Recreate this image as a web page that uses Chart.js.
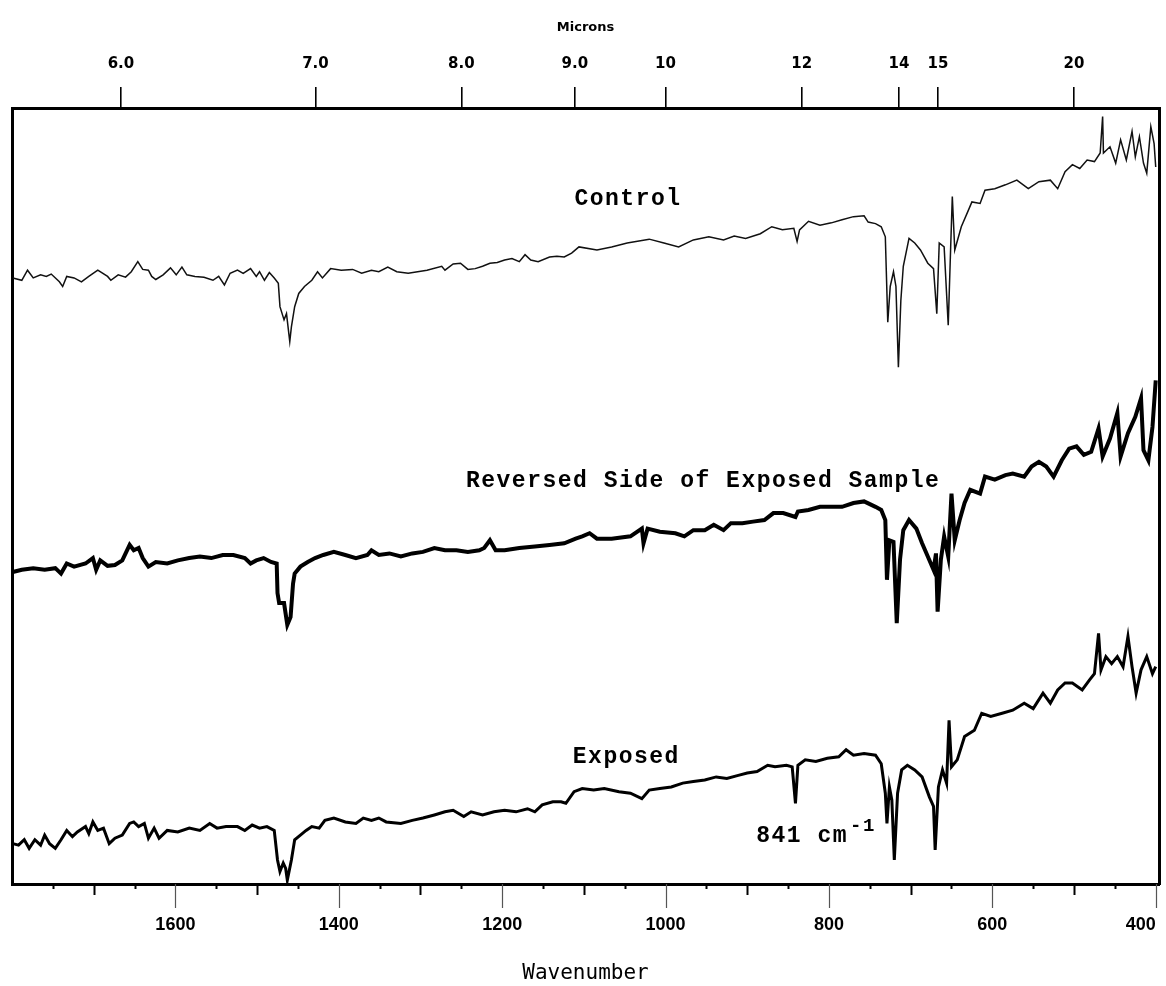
<!DOCTYPE html>
<html>
<head>
<meta charset="utf-8">
<title>IR spectra</title>
<script src="https://cdn.jsdelivr.net/npm/chart.js"></script>
<style>
  html, body { margin: 0; padding: 0; background: #fff; }
  #spectra { display: block; background: #fff; }
</style>
</head>
<body>
<canvas id="spectra" width="1166" height="986"></canvas>
<script>
"use strict";

// wavenumber axis (cm-1) and the micron scale printed along the top
const wavenumberLabels = [1600, 1400, 1200, 1000, 800, 600, 400];
const micronTicks = [6.0, 7.0, 8.0, 9.0, 10, 12, 14, 15, 20];
const micronLabels = ["6.0", "7.0", "8.0", "9.0", "10", "12", "14", "15", "20"];

const seriesNames = ["Control", "Reversed Side of Exposed Sample", "Exposed"];
const markedPeak = 841;

// Control spectrum
const controlWn = [
    1799, 1788, 1781, 1774, 1765, 1758, 1752, 1742, 1738, 1733,
    1724, 1715, 1706, 1695, 1683, 1679, 1670, 1661, 1654, 1646,
    1640, 1633, 1629, 1624, 1615, 1606, 1599, 1592, 1586, 1576,
    1565, 1554, 1547, 1540, 1533, 1524, 1517, 1508, 1501, 1497,
    1491, 1485, 1479, 1474, 1472, 1467, 1464, 1460, 1458, 1454,
    1449, 1442, 1433, 1426, 1420, 1410, 1397, 1383, 1372, 1360,
    1351, 1340, 1329, 1315, 1292, 1274, 1270, 1260, 1251, 1242,
    1233, 1224, 1215, 1206, 1197, 1188, 1179, 1172, 1165, 1156,
    1142, 1133, 1124, 1115, 1106, 1084, 1066, 1047, 1020, 1002,
    984, 966, 947, 929, 916, 902, 884, 870, 857, 843,
    839, 836, 825, 811, 797, 784, 770, 757, 752, 743,
    736, 731, 728, 725, 721, 718, 715, 712, 709, 702,
    695, 688, 679, 672, 668, 665, 659, 654, 651, 649,
    646, 638, 629, 625, 615, 609, 597, 584, 570, 556,
    543, 529, 520, 511, 502, 493, 484, 475, 468, 465,
    464, 456, 449, 443, 436, 429, 425, 420, 415, 411,
    406, 402, 400
];
const controlT = [
    78.1, 77.8, 79.1, 78.1, 78.5, 78.3, 78.6, 77.6, 77.0, 78.3,
    78.1, 77.6, 78.3, 79.1, 78.3, 77.8, 78.5, 78.2, 78.9, 80.2,
    79.2, 79.1, 78.3, 77.9, 78.5, 79.4, 78.5, 79.5, 78.5, 78.3,
    78.2, 77.8, 78.3, 77.2, 78.7, 79.1, 78.7, 79.3, 78.3, 78.9,
    77.8, 78.8, 78.1, 77.4, 74.4, 72.7, 73.5, 69.9, 71.8, 74.4,
    76.1, 77.0, 77.8, 78.9, 78.1, 79.3, 79.1, 79.2, 78.7, 79.1,
    78.9, 79.5, 78.9, 78.7, 79.1, 79.6, 79.1, 79.9, 80.0, 79.2,
    79.3, 79.6, 80.0, 80.1, 80.4, 80.6, 80.2, 81.1, 80.4, 80.2,
    80.8, 80.9, 80.8, 81.3, 82.1, 81.7, 82.1, 82.6, 83.1, 82.6,
    82.1, 83.0, 83.4, 83.0, 83.5, 83.2, 83.8, 84.7, 84.3, 84.5,
    82.8, 84.3, 85.4, 84.9, 85.2, 85.6, 86.0, 86.1, 85.3, 85.1,
    84.7, 83.4, 72.4, 77.0, 78.9, 77.0, 66.6, 75.2, 79.6, 83.2,
    82.6, 81.7, 80.0, 79.3, 73.5, 82.6, 82.1, 72.0, 82.1, 88.6,
    81.7, 84.7, 86.9, 87.9, 87.7, 89.4, 89.6, 90.1, 90.7, 89.6,
    90.5, 90.7, 89.6, 91.8, 92.7, 92.2, 93.3, 93.1, 94.2, 98.9,
    94.2, 95.0, 92.9, 95.9, 93.3, 97.0, 93.7, 96.3, 92.9, 91.6,
    97.6, 95.4, 92.4
];

// Reversed side of the exposed sample
const reversedWn = [
    1799, 1788, 1774, 1760, 1747, 1740, 1733, 1724, 1710, 1701,
    1697, 1692, 1683, 1674, 1665, 1656, 1651, 1645, 1640, 1633,
    1624, 1610, 1597, 1583, 1570, 1556, 1542, 1529, 1515, 1508,
    1501, 1492, 1483, 1476, 1475, 1473, 1467, 1463, 1459, 1456,
    1454, 1447, 1438, 1429, 1419, 1406, 1392, 1379, 1365, 1360,
    1351, 1338, 1324, 1310, 1297, 1283, 1270, 1256, 1242, 1228,
    1222, 1215, 1208, 1197, 1179, 1160, 1142, 1124, 1110, 1102,
    1093, 1084, 1066, 1043, 1029, 1027, 1022, 1007, 988, 977,
    966, 952, 941, 929, 920, 906, 893, 879, 868, 856,
    841, 838, 825, 811, 797, 784, 770, 757, 743, 736,
    731, 729, 726, 721, 717, 713, 709, 702, 693, 686,
    679, 672, 669, 667, 663, 659, 654, 650, 646, 640,
    634, 627, 615, 609, 597, 584, 575, 561, 552, 543,
    534, 525, 515, 506, 497, 488, 479, 470, 465, 456,
    447, 443, 434, 425, 418, 415, 409, 404, 400
];
const reversedT = [
    40.2, 40.5, 40.7, 40.5, 40.7, 40.0, 41.3, 40.9, 41.3, 42.0,
    40.5, 41.7, 41.0, 41.1, 41.7, 43.7, 43.0, 43.3, 42.0, 40.9,
    41.5, 41.3, 41.7, 42.0, 42.2, 42.0, 42.4, 42.4, 42.0, 41.3,
    41.7, 42.0, 41.5, 41.3, 37.5, 36.2, 36.2, 33.4, 34.4, 38.7,
    40.0, 40.9, 41.5, 42.0, 42.4, 42.8, 42.4, 42.0, 42.4, 43.0,
    42.4, 42.6, 42.2, 42.6, 42.8, 43.3, 43.0, 43.0, 42.8, 43.0,
    43.3, 44.3, 43.0, 43.0, 43.3, 43.5, 43.7, 43.9, 44.5, 44.8,
    45.2, 44.5, 44.5, 44.8, 45.8, 43.9, 45.8, 45.4, 45.2, 44.8,
    45.6, 45.6, 46.3, 45.6, 46.5, 46.5, 46.7, 46.9, 47.8, 47.8,
    47.3, 48.0, 48.2, 48.6, 48.6, 48.6, 49.1, 49.3, 48.6, 48.2,
    46.9, 39.2, 44.3, 44.1, 33.6, 41.8, 45.6, 46.9, 45.8, 43.9,
    42.2, 40.5, 42.6, 35.1, 41.8, 44.8, 42.2, 50.3, 44.3, 46.9,
    49.1, 50.8, 50.3, 52.5, 52.1, 52.7, 52.9, 52.5, 53.8, 54.4,
    53.8, 52.5, 54.6, 56.1, 56.4, 55.3, 55.7, 58.7, 55.1, 57.4,
    60.7, 55.1, 58.1, 60.2, 62.6, 55.9, 54.6, 58.9, 64.9
];

// Exposed surface
const exposedWn = [
    1799, 1792, 1785, 1779, 1772, 1765, 1760, 1754, 1747, 1740,
    1733, 1726, 1720, 1710, 1706, 1701, 1695, 1688, 1681, 1674,
    1665, 1656, 1651, 1645, 1638, 1633, 1626, 1620, 1610, 1597,
    1583, 1570, 1558, 1549, 1538, 1524, 1515, 1506, 1497, 1488,
    1479, 1475, 1472, 1468, 1465, 1463, 1458, 1454, 1447, 1440,
    1433, 1424, 1417, 1406, 1392, 1379, 1370, 1360, 1351, 1342,
    1324, 1310, 1297, 1283, 1270, 1260, 1247, 1238, 1224, 1210,
    1197, 1183, 1169, 1160, 1151, 1138, 1128, 1122, 1112, 1102,
    1088, 1075, 1057, 1043, 1029, 1020, 1007, 993, 979, 966,
    952, 938, 925, 911, 900, 888, 875, 866, 852, 845,
    markedPeak, 838, 829, 816, 802, 788, 779, 770, 757, 743,
    736, 731, 729, 726, 723, 720, 716, 711, 704, 695,
    686, 677, 672, 670, 666, 661, 656, 653, 650, 643,
    634, 622, 613, 602, 588, 575, 561, 550, 538, 529,
    520, 511, 502, 490, 481, 475, 470, 467, 461, 454,
    447, 440, 434, 429, 424, 418, 411, 404, 400
];
const exposedT = [
    5.2, 5.0, 5.7, 4.6, 5.7, 5.0, 6.3, 5.2, 4.6, 5.7,
    6.9, 6.1, 6.7, 7.4, 6.5, 8.0, 6.9, 7.2, 5.2, 5.9,
    6.3, 7.8, 8.0, 7.4, 7.8, 5.9, 7.2, 5.9, 6.9, 6.7,
    7.2, 6.9, 7.8, 7.2, 7.4, 7.4, 6.9, 7.6, 7.2, 7.4,
    6.9, 3.1, 1.6, 2.7, 2.0, 0.5, 3.1, 5.7, 6.3, 6.9,
    7.4, 7.2, 8.2, 8.5, 8.0, 7.8, 8.5, 8.2, 8.5, 8.0,
    7.8, 8.2, 8.5, 8.9, 9.3, 9.5, 8.7, 9.3, 8.9, 9.3,
    9.5, 9.3, 9.7, 9.3, 10.2, 10.6, 10.6, 10.4, 11.9, 12.3,
    12.1, 12.3, 11.9, 11.7, 11.0, 12.1, 12.3, 12.5, 13.0, 13.2,
    13.4, 13.8, 13.6, 14.0, 14.3, 14.5, 15.3, 15.1, 15.3, 15.1,
    10.4, 15.3, 16.0, 15.8, 16.2, 16.4, 17.3, 16.6, 16.8, 16.6,
    15.5, 11.7, 7.8, 12.5, 10.8, 3.1, 11.7, 14.7, 15.3, 14.7,
    13.8, 11.2, 10.0, 4.4, 12.5, 14.7, 13.0, 21.1, 15.1, 16.0,
    19.0, 19.8, 22.0, 21.6, 22.0, 22.4, 23.3, 22.6, 24.6, 23.3,
    25.0, 25.9, 25.9, 25.0, 26.3, 27.1, 32.3, 27.6, 29.3, 28.4,
    29.3, 28.0, 31.9, 28.0, 24.6, 27.6, 29.3, 27.1, 28.0
];

const toPoints = (wn, t) => wn.map((w, i) => ({ x: w, y: t[i] }));

const labelFont = 'bold 23px "Liberation Mono", "DejaVu Sans Mono", monospace';

// minor / major tick marks under the wavenumber axis
const wavenumberTickMarks = {
    id: "wavenumberTickMarks",
    afterDraw(chart) {
        const { ctx, chartArea } = chart;
        const xScale = chart.scales.x;
        ctx.save();
        for (let v = 400; v < 1800; v += 50) {
            const px = Math.round(xScale.getPixelForValue(v)) + 0.5;
            let len = 5;
            if (v % 200 === 0) len = 24;
            else if (v % 100 === 0) len = 11;
            ctx.strokeStyle = v % 200 === 0 ? "#555" : "#000";
            ctx.lineWidth = v % 200 === 0 ? 1.2 : 2;
            ctx.beginPath();
            ctx.moveTo(px, chartArea.bottom);
            ctx.lineTo(px, chartArea.bottom + len);
            ctx.stroke();
        }
        ctx.restore();
    }
};

// typed names beside each trace, plus the 841 cm-1 note
const traceLabels = {
    id: "traceLabels",
    afterDatasetsDraw(chart, args, opts) {
        const { ctx } = chart;
        const xScale = chart.scales.x;
        const yScale = chart.scales.y;
        ctx.save();
        ctx.fillStyle = "#000";
        ctx.font = labelFont;
        ctx.letterSpacing = "1.5px";
        ctx.textBaseline = "middle";
        ctx.textAlign = "center";
        opts.spots.forEach((spot, i) => {
            ctx.fillText(seriesNames[i], xScale.getPixelForValue(spot.x), yScale.getPixelForValue(spot.y));
        });

        const nx = xScale.getPixelForValue(opts.note.x);
        const ny = yScale.getPixelForValue(opts.note.y);
        const noteText = `${markedPeak} cm`;
        ctx.textAlign = "left";
        ctx.fillText(noteText, nx, ny);
        const w = ctx.measureText(noteText).width;
        ctx.font = 'bold 19px "Liberation Mono", "DejaVu Sans Mono", monospace';
        ctx.fillText("-1", nx + w + 2, ny - 10);
        ctx.restore();
    }
};

// the frame must run edge to edge, so drop the padding chart.js adds for end labels
const noEdgePadding = (scale, height) => {
    scale.height = height;
    scale.paddingLeft = 0;
    scale.paddingRight = 0;
};

const ctx = document.getElementById("spectra").getContext("2d");

const frame = { display: true, color: "#000", width: 3 };

const chart = new Chart(ctx, {
    type: "line",
    data: {
        datasets: [
            {
                label: seriesNames[0],
                data: toPoints(controlWn, controlT),
                borderColor: "#111",
                borderWidth: 1.5,
                pointRadius: 0,
                tension: 0
            },
            {
                label: seriesNames[1],
                data: toPoints(reversedWn, reversedT),
                borderColor: "#000",
                borderWidth: 4,
                pointRadius: 0,
                tension: 0
            },
            {
                label: seriesNames[2],
                data: toPoints(exposedWn, exposedT),
                borderColor: "#000",
                borderWidth: 3,
                pointRadius: 0,
                tension: 0
            }
        ]
    },
    options: {
        responsive: false,
        animation: false,
        layout: { padding: 0 },
        plugins: {
            legend: { display: false },
            tooltip: { enabled: false },
            traceLabels: {
                spots: [
                    { x: 1046, y: 88.3 },
                    { x: 954, y: 51.9 },
                    { x: 1048, y: 16.4 }
                ],
                note: { x: 889, y: 6.2 }
            }
        },
        scales: {
            x: {
                type: "linear",
                position: "bottom",
                min: 396,
                max: 1800,
                reverse: true,
                afterFit: (scale) => noEdgePadding(scale, 102),
                // ascending order with an unlabelled 1800 at the end, so "inner"
                // alignment only pulls the 400 label back inside the canvas
                afterBuildTicks: (scale) => {
                    scale.ticks = [...wavenumberLabels, 1800]
                        .sort((a, b) => a - b)
                        .map(v => ({ value: v }));
                },
                grid: { drawOnChartArea: false, color: "rgba(0,0,0,0)", tickLength: 22 },
                border: frame,
                ticks: {
                    autoSkip: false,
                    maxRotation: 0,
                    align: "inner",
                    padding: 8,
                    color: "#000",
                    font: { family: '"Liberation Sans", Arial, sans-serif', size: 18, weight: "bold" },
                    callback: (value) => (value === 1800 ? "" : String(value))
                },
                title: {
                    display: true,
                    text: "Wavenumber",
                    color: "#000",
                    padding: { top: 0, bottom: 0 },
                    font: { family: '"DejaVu Sans Mono", monospace', size: 21 }
                }
            },
            micron: {
                type: "linear",
                position: "top",
                min: 396,
                max: 1800,
                reverse: true,
                afterFit: (scale) => noEdgePadding(scale, 108),
                afterBuildTicks: (scale) => {
                    scale.ticks = micronTicks.map(m => ({ value: 10000 / m }));
                },
                grid: { drawOnChartArea: false, color: "#000", lineWidth: 1.6, tickLength: 21 },
                border: frame,
                ticks: {
                    autoSkip: false,
                    maxRotation: 0,
                    padding: 14,
                    color: "#000",
                    font: { family: '"DejaVu Sans", sans-serif', size: 15, weight: "bold" },
                    callback: (value, index) => micronLabels[index]
                },
                title: {
                    display: true,
                    text: "Microns",
                    color: "#000",
                    padding: { top: 20, bottom: 0 },
                    font: { family: '"DejaVu Sans", sans-serif', size: 13, weight: "bold" }
                }
            },
            y: {
                position: "left",
                min: 0,
                max: 100,
                afterFit: (scale) => { scale.width = 12; },
                grid: { display: false, drawTicks: false },
                border: frame,
                ticks: { display: false }
            },
            yRight: {
                position: "right",
                min: 0,
                max: 100,
                afterFit: (scale) => { scale.width = 7; },
                grid: { display: false, drawTicks: false },
                border: frame,
                ticks: { display: false }
            }
        }
    },
    plugins: [wavenumberTickMarks, traceLabels]
});
</script>
</body>
</html>
